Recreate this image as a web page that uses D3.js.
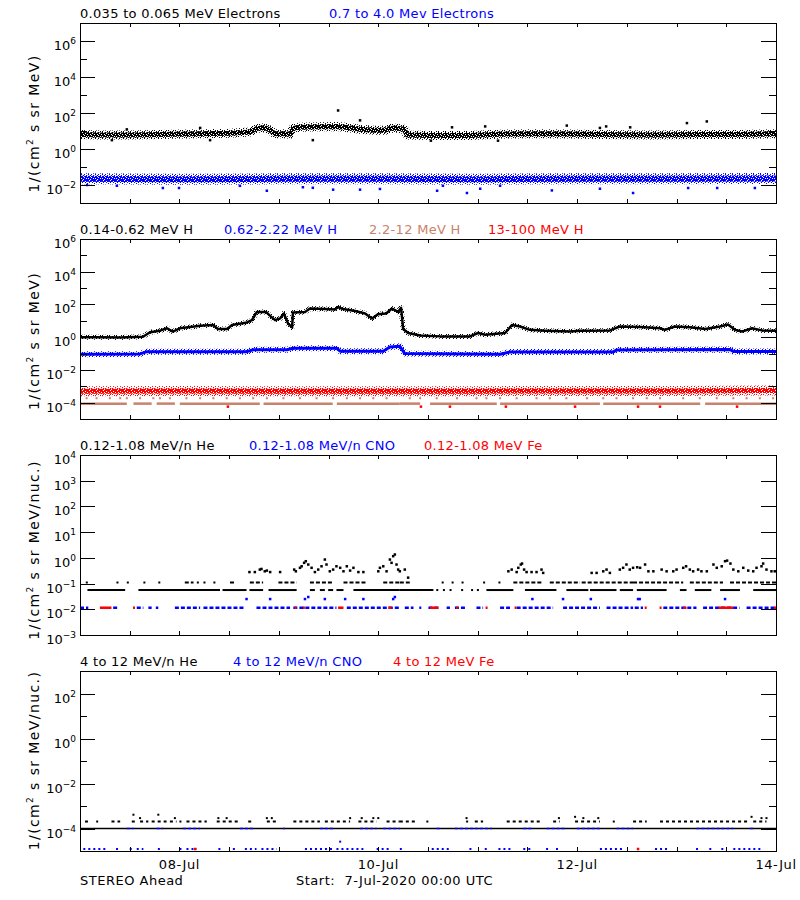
<!DOCTYPE html>
<html><head><meta charset="utf-8">
<script src="https://cdn.jsdelivr.net/npm/d3@7"></script>
<style>
body{margin:0;background:#fff}
text{font-family:"DejaVu Sans",sans-serif}
</style>
</head><body>
<svg id="c" width="800" height="900"></svg>
<script>
// ---------------- DATA (hours since 7-Jul-2020 00:00 UTC, flux) ----------------
const dayTickHours = [24, 72, 120, 168];
const dayTickLabels = ["08-Jul", "10-Jul", "12-Jul", "14-Jul"];
const footerLeft = "STEREO Ahead";
const footerStart = "Start:  7-Jul-2020 00:00 UTC";

// Panel 1: electrons
const elecTitles = ["0.035 to 0.065 MeV Electrons", "0.7 to 4.0 Mev Electrons"];
const eLow = [[0,6.3],[4.8,6.0],[12,6.0],[19.3,6.3],[29,7.1],[36.2,7.6],[41,8.9],[42.7,14],[44.7,15],[45.9,11],[47,7.1],[49.5,7.1],[50.7,6.6],[51.4,14],[53,16],[58,17],[62,18],[64,16],[67.6,12.6],[71.2,11],[73.6,11],[74.8,14],[76.8,14],[78.2,12.6],[79,6.0],[84.5,5.6],[94,5.6],[101,6.6],[111,7.1],[118,6.9],[125.5,6.3],[137.6,6.0],[149.7,6.3],[159,6.3],[168,7.1]];
const eLowOutliers = [[62.3,138],[67.6,39],[11.3,12.3],[29,14.8],[89.8,16],[97.8,18],[117.5,20],[127,18],[132.8,16],[146.5,27.5],[151.3,34],[125.5,14.8],[7.7,3.1],[31.4,3.1],[56.2,3.1],[100.9,2.9],[84.7,2.9]];
const eHigh = [[0,0.022],[24,0.021],[48,0.022],[72,0.022],[96,0.021],[120,0.022],[144,0.022],[168,0.023]];
const eHighOutliers = [[45.1,0.0048],[23.9,0.0068],[20,0.0068],[8.9,0.0091],[61.1,0.0055],[67.6,0.0055],[72.4,0.006],[53.8,0.0075],[56.2,0.007],[38.6,0.009],[1.7,0.01],[86.2,0.0048],[93.4,0.0036],[96.6,0.0062],[113.9,0.005],[133.5,0.0036],[153.8,0.0068],[162.9,0.0068],[146.8,0.0068],[125.5,0.0062],[101.4,0.0091],[87.6,0.0091]];

// Panel 2: protons
const protTitles = ["0.14-0.62 MeV H", "0.62-2.22 MeV H", "2.2-12 MeV H", "13-100 MeV H"];
const hLow = [[0,1.0],[4.8,1.0],[9.7,0.95],[15.2,1.07],[16.9,2.0],[19.3,2.5],[21,3.5],[22.4,2.2],[24.1,3.5],[26.6,4.2],[29,5.0],[32.1,5.6],[33.3,3.2],[35.5,3.2],[36.7,5.6],[40.3,7.9],[41.5,11],[42.7,35],[44.9,35],[45.9,20],[47.1,11],[48.3,14],[49.2,28],[50.2,7],[51.2,4],[51.4,32],[54.3,35],[55.5,56],[59.1,52],[61.6,50],[62.3,70],[63.5,52],[66.4,40],[68.8,28],[70.5,14],[71.9,25],[73.9,28],[75.3,56],[76.8,35],[77.5,63],[78,3.2],[79.2,1.8],[82.1,1.26],[86.9,1.12],[94.1,1.12],[96.1,1.8],[97.8,1.4],[102.6,1.8],[104.3,5.6],[106.2,4.5],[108.6,2.8],[112.2,2.5],[118.3,2.2],[120.7,2.5],[127.9,2.6],[130.3,4.5],[135.2,4.2],[140,3.5],[141.2,2.8],[143.6,4.5],[147.2,4.0],[150.9,3.2],[154.5,4.5],[156.4,6.0],[158.1,2.8],[159.8,2.2],[162.2,3.5],[164.6,2.6],[168,2.5]];
const hMid = [[0,0.091],[14.5,0.095],[16.2,0.13],[40.3,0.13],[41.8,0.17],[50,0.17],[51.4,0.21],[62,0.21],[62.8,0.14],[73.2,0.14],[74.8,0.25],[77.2,0.28],[78.4,0.1],[101.4,0.09],[103.8,0.126],[128.7,0.126],[129.6,0.166],[156.9,0.178],[157.7,0.135],[168,0.135]];
const hHigh = [[0,5e-4],[24,5.2e-4],[48,5e-4],[72,5e-4],[96,5e-4],[120,5.2e-4],[144,5.2e-4],[168,5.5e-4]];
const hHighOutliers = [[35.7,5.7e-5],[82.3,5.7e-5],[89.3,5.7e-5],[102.8,5.7e-5],[119.5,5.7e-5],[134.7,5.7e-5],[140,5.7e-5],[158.6,5.7e-5]];
const hSiennaLevel = 8.7e-5;
const hSiennaSegs = [[0,11.3],[12.9,17.3],[18.5,22.9],[24.1,43.4],[44.3,61],[62,77.2],[77.2,82.1],[84.5,100.6],[101.4,125.5],[126.3,149.7],[150.9,168]];
const hSiennaUpperLevel = 1.86e-4;
const hSiennaUpperHours = [0,1.6,4,7.2,9.7,11.3,14.5,17.7,19.3,21.7,25.7,29,32.2,35.4,38.6,41.8,45.1,49.1,53.1,57.1,61.1,64.4,67.6,70.8,74,79.6,82.1,86.1,91,95.7,98.1,101.4,105.4,110.2,113.4,117.4,122.4,126.3,129.5,133.5,136.8,140,145.6,149.6,153.7,157.7,160.9,164.1,167.3];

// Panel 3: low energy heavy ions
const ionTitles = ["0.12-1.08 MeV/n He", "0.12-1.08 MeV/n CNO", "0.12-1.08 MeV Fe"];
const heFloorLevel = 0.056;
const heFloorSegs = [[1.8,10.9],[14.1,33.8],[34.4,40.2],[40.9,44.2],[45.5,52.3],[55.5,56.7],[57.9,59.1],[59.9,61.1],[61.9,63.6],[66,77.2],[77.2,85.3],[86,86.4],[87.6,88],[89.2,89.6],[92,92.4],[94.4,94.8],[95.8,96.2],[98.1,104.6],[107.4,115],[117.4,122.7],[123.1,129.5],[130.3,133.5],[134.4,141.6],[144.8,146.4],[148.4,152.4],[154.5,159.3],[162.5,168]];
const heMidLevel = 0.11;
const heMidSegs = [[1.4,1.7],[8.8,9.1],[11.3,11.6],[15.3,15.6],[18.9,19.2],[25.3,27.4],[28.2,28.5],[29.8,30.1],[32.2,32.5],[36.2,37.4],[41,44.2],[47.9,52.3],[55.5,61.1],[63.6,69.2],[73.2,77.2],[77.2,79.6],[87.3,87.6],[89.7,90],[92.1,92.4],[97.3,97.6],[101,101.3],[104.6,111.8],[113.4,120.7],[121.1,133.5],[133.5,145.6],[147.2,155.2],[156.9,168]];
const heScatter = [[40.9,0.28],[42.2,0.28],[43.4,0.35],[43.8,0.37],[44.6,0.30],[45.1,0.32],[45.9,0.28],[48.3,0.28],[51.7,0.35],[52.1,0.30],[53.1,0.41],[53.5,0.47],[54.1,0.64],[54.5,0.74],[55.1,0.55],[55.9,0.41],[56.7,0.28],[57.5,0.35],[58.3,0.47],[59.1,0.86],[59.5,0.55],[60.3,0.30],[61.1,0.35],[61.9,0.47],[62.8,0.41],[63.6,0.30],[64.4,0.47],[65.2,0.32],[66,0.41],[67.2,0.28],[68.4,0.28],[72,0.30],[72.4,0.41],[73.2,0.47],[74,0.30],[74.8,0.86],[75.2,0.64],[75.6,1.16],[76,1.35],[76.4,0.55],[76.8,0.35],[77.2,0.30],[78.4,0.35],[79.2,0.17],[103.4,0.30],[104.2,0.35],[105.4,0.28],[105.8,0.41],[106.4,0.55],[106.7,0.60],[107.2,0.35],[107.8,0.28],[109,0.28],[110.2,0.28],[111.4,0.35],[111.8,0.26],[123.5,0.26],[124.7,0.26],[126.3,0.30],[127.1,0.35],[127.9,0.26],[130.3,0.35],[131.1,0.41],[131.9,0.55],[132.7,0.35],[133.5,0.41],[134.5,0.43],[135.2,0.41],[136.4,0.55],[137.2,0.30],[138.4,0.30],[140.4,0.35],[141.6,0.30],[143.2,0.30],[144,0.35],[145.6,0.41],[146.3,0.47],[147.2,0.35],[148,0.30],[149.2,0.35],[150,0.30],[151.3,0.30],[152.9,0.55],[153.7,0.41],[154.9,0.47],[155.7,0.74],[156.2,0.78],[157,0.60],[157.7,0.35],[158.9,0.30],[160.1,0.41],[161.3,0.32],[162.5,0.30],[163.3,0.41],[164.5,0.47],[164.9,0.60],[165.7,0.35],[166.9,0.30],[167.7,0.30]];
const cnoLevel = 0.0115;
const cnoSegs = [[0,2],[8,9],[13.7,15.3],[16.5,17.3],[18.3,18.9],[22.9,29],[29.8,39.8],[42.6,50.7],[51.5,61.9],[64.4,77.2],[78.4,80.5],[81.9,82.2],[84.1,86.5],[88.5,89.3],[90.5,93.3],[95.7,97.3],[101.4,103.8],[105.4,114.2],[116.6,125.5],[127.1,133.5],[133.9,135.9],[140.8,148.8],[150.4,159.2],[160.9,168]];
const cnoUpper = [[40.2,0.025],[45.9,0.025],[54.3,0.025],[59.1,0.025],[64,0.025],[68.4,0.025],[75.6,0.025],[109.2,0.025],[116.6,0.025],[123.3,0.025],[134.7,0.025],[135.1,0.025],[155.7,0.025],[55.1,0.03],[76,0.03]];
const feSegs = [[4.8,7.6],[12.8,13.1],[51.8,52.1],[53.8,54.1],[62.3,63.6],[74.4,75.2],[84.5,86.5],[90.8,91.1],[97.9,98.2],[104.9,105.2],[136.3,136.7],[139.9,140.2],[145.6,146.4],[154.1,157.7],[167.5,168]];

// Panel 4: high energy heavy ions
const ion4Titles = ["4 to 12 MeV/n He", "4 to 12 MeV/n CNO", "4 to 12 MeV Fe"];
const he4FloorLevel = 1e-4;
const he4FloorSegs = [[0,168]];
const he4Level2 = 2.04e-4;
const he4Level2Segs = [[1.2,2.4],[3.9,4.2],[7.6,9.7],[12.5,13.7],[14.5,16.5],[17.3,20.9],[21.7,23.3],[24,24.3],[25.7,30.6],[33,38.6],[40.6,41.8],[45.1,47.5],[51.5,57.9],[59.1,65.2],[67.2,71.6],[74,77.2],[77.2,81.3],[83.6,83.9],[93.2,93.5],[95.3,97.3],[103,111],[114.2,115.8],[119.5,125.5],[128.6,128.9],[133.5,136.8],[140,154.5],[154.5,161.7],[162.5,165.7]];
const he4Upper = [[12.9,4.1e-4],[14.5,2.9e-4],[18.9,4.1e-4],[22.9,2.9e-4],[33.4,2.9e-4],[35.4,2.9e-4],[45.1,2.9e-4],[46.3,2.9e-4],[65.2,2.9e-4],[68,2.9e-4],[70.8,2.9e-4],[72,2.9e-4],[93.3,2.9e-4],[115.6,2.9e-4],[119.5,3.3e-4],[121.5,2.9e-4],[125.1,2.9e-4],[162.1,3.3e-4],[164.5,2.9e-4],[165.7,2.9e-4]];
const cno4FloorSegs = [[11.3,12.9],[18.5,20.1],[24.9,29],[38.6,41.8],[49,49.3],[57.9,61.1],[67.6,71.6],[73.2,77.2],[86.1,86.9],[90.5,99.4],[107,109.4],[112.6,117.4],[119.9,125.5],[129.5,133.5],[148.8,157.7],[161.7,162.5]];
const cno4LowLevel = 1.23e-5;
const cno4LowSegs = [[0.8,6.4],[8.7,9],[12,12.3],[13.7,15.3],[18.8,19.1],[24,24.3],[25.7,28.2],[33.4,34.6],[36.9,37.2],[39.8,42.6],[43.8,47.5],[54.3,61.1],[61.9,68.4],[71.6,74.8],[77.2,78],[84.9,89.3],[94,94.3],[97.7,98],[101,104.6],[107,109.4],[112.5,112.8],[114.9,115.2],[125.5,131.1],[138.8,142],[148.7,149],[151.9,152.2],[154.8,155.1],[157.7,164.9]];
const cno4Odd = [[62.8,2.6e-5]];
const fe4Low = [[27.8,1.23e-5],[134.7,1.23e-5]];

// ---------------- LAYOUT / STYLE ----------------
const BLUE = "#0000ff", RED = "#ff0000", SIENNA = "#c9826b", BLACK = "#000";
const x0 = 80, x1 = 776;
const svg = d3.select("#c");
const xs = d3.scaleLinear().domain([0, 168]).range([x0, x1]);
const halfDayTicks = d3.range(0, 169, 12);

// speckle textures (pure styling, fixed bitmaps)
const denseTile = ["1111101", "1011111", "1110110", "0111111", "1101011", "1111110"];
const sparseTile = ["1000100", "0010001", "0100010", "0001000", "1000010", "0010100"];
const defs = svg.append("defs");
function makePattern(id, tile, color) {
  const p = defs.append("pattern").attr("id", id).attr("patternUnits", "userSpaceOnUse")
    .attr("width", tile[0].length).attr("height", tile.length);
  tile.forEach((row, r) => row.split("").forEach((c, k) => {
    if (c === "1") p.append("rect").attr("x", k).attr("y", r).attr("width", 1).attr("height", 1).attr("fill", color);
  }));
}
[["k", BLACK], ["b", BLUE], ["r", RED]].forEach(([n, c]) => {
  makePattern("dense-" + n, denseTile, c);
  makePattern("sparse-" + n, sparseTile, c);
});

function makeY(p) {
  return d3.scaleLog().domain([Math.pow(10, p.lo), Math.pow(10, p.hi)]).range([p.bottom, p.top]);
}

function drawLine(g, y, data, paint, w) {
  g.append("path").datum(data)
    .attr("d", d3.line().x(d => xs(d[0])).y(d => y(d[1])))
    .attr("fill", "none").attr("stroke", paint).attr("stroke-width", w)
    .attr("stroke-linejoin", "round");
}
function drawBand(g, y, data, n, inner, outer, solidCore) {
  drawLine(g, y, data, `url(#sparse-${n})`, outer);
  drawLine(g, y, data, solidCore ? solidCore : `url(#dense-${n})`, inner);
}
function drawDots(g, y, data, color, s) {
  s = s || 2.5;
  g.selectAll(null).data(data).enter().append("rect")
    .attr("x", d => xs(d[0]) - s / 2).attr("y", d => y(d[1]) - s / 2)
    .attr("width", s).attr("height", s).attr("fill", color);
}
function drawSegs(g, y, segs, level, color, h, dash) {
  g.selectAll(null).data(segs).enter().append("line")
    .attr("x1", d => xs(d[0])).attr("x2", d => Math.max(xs(d[1]), xs(d[0]) + 2))
    .attr("y1", y(level)).attr("y2", y(level))
    .attr("stroke", color).attr("stroke-width", h)
    .attr("stroke-dasharray", dash || null);
}

function frame(p, y) {
  const g = svg.append("g").attr("shape-rendering", "crispEdges");
  g.append("rect").attr("x", x0).attr("y", p.top).attr("width", x1 - x0).attr("height", p.bottom - p.top)
    .attr("fill", "none").attr("stroke", BLACK).attr("stroke-width", 1);
  const major = p.labeled.map(k => Math.pow(10, k));
  const minor = p.minor.map(k => Math.pow(10, k));
  const rm = s => s.call(a => a.select(".domain").remove()).selectAll("line").attr("stroke", BLACK);
  g.append("g").attr("transform", `translate(${x0},0)`).call(d3.axisRight(y).tickValues(major).tickSize(15).tickFormat("")).call(rm);
  g.append("g").attr("transform", `translate(${x1},0)`).call(d3.axisLeft(y).tickValues(major).tickSize(15).tickFormat("")).call(rm);
  if (minor.length) {
    g.append("g").attr("transform", `translate(${x0},0)`).call(d3.axisRight(y).tickValues(minor).tickSize(7).tickFormat("")).call(rm);
    g.append("g").attr("transform", `translate(${x1},0)`).call(d3.axisLeft(y).tickValues(minor).tickSize(7).tickFormat("")).call(rm);
  }
  g.append("g").attr("transform", `translate(0,${p.top})`).call(d3.axisBottom(xs).tickValues(halfDayTicks).tickSize(4).tickFormat("")).call(rm);
  g.append("g").attr("transform", `translate(0,${p.bottom})`).call(d3.axisTop(xs).tickValues(halfDayTicks).tickSize(4).tickFormat("")).call(rm);

  p.labeled.forEach(k => {
    const t = svg.append("text").attr("x", 76).attr("y", y(Math.pow(10, k)) + 9)
      .attr("text-anchor", "end").attr("font-size", 13);
    t.append("tspan").text("10");
    t.append("tspan").attr("dy", -6).attr("font-size", 9).text(k < 0 ? "\u2212" + (-k) : String(k));
  });
  const yt = svg.append("text").attr("transform", `translate(39,${p.ytCenter}) rotate(-90)`)
    .attr("text-anchor", "middle").attr("font-size", 14).attr("letter-spacing", 1.4);
  yt.append("tspan").text("1/(cm");
  yt.append("tspan").attr("dy", -6).attr("font-size", 9).text("2");
  yt.append("tspan").attr("dy", 6).text(p.unit);
  p.titles.forEach((s, i) => {
    svg.append("text").attr("x", p.titleX[i]).attr("y", p.top - 5)
      .attr("font-size", 13).attr("letter-spacing", 0.3).attr("fill", p.titleColors[i]).text(s);
  });
}

function clipGroup(p, id) {
  svg.append("clipPath").attr("id", id).append("rect")
    .attr("x", x0).attr("y", p.top).attr("width", x1 - x0).attr("height", p.bottom - p.top);
  return svg.append("g").attr("clip-path", `url(#${id})`);
}

// Panel 1
const P1 = {top: 23, bottom: 203, lo: -3, hi: 7, labeled: [-2, 0, 2, 4, 6], minor: [-1, 1, 3, 5],
  ytCenter: 123.5, unit: " s sr MeV)", titles: elecTitles, titleX: [80, 329], titleColors: [BLACK, BLUE]};
{
  const y = makeY(P1); const g = clipGroup(P1, "c1");
  drawBand(g, y, eLow, "k", 5, 9);
  drawDots(g, y, eLowOutliers, BLACK);
  drawBand(g, y, eHigh, "b", 6, 11);
  drawDots(g, y, eHighOutliers, BLUE);
  frame(P1, y);
}
// Panel 2
const P2 = {top: 239, bottom: 419, lo: -5, hi: 6, labeled: [-4, -2, 0, 2, 4, 6], minor: [-3, -1, 1, 3, 5],
  ytCenter: 341, unit: " s sr MeV)", titles: protTitles, titleX: [80, 224, 369, 488], titleColors: [BLACK, BLUE, SIENNA, RED]};
{
  const y = makeY(P2); const g = clipGroup(P2, "c2");
  drawBand(g, y, hLow, "k", 2.5, 5, BLACK);
  drawBand(g, y, hMid, "b", 3, 6, BLUE);
  drawSegs(g, y, hSiennaSegs, hSiennaLevel, SIENNA, 2.5);
  drawDots(g, y, hSiennaUpperHours.map(h => [h, hSiennaUpperLevel]), SIENNA, 2);
  drawBand(g, y, hHigh, "r", 5, 10);
  drawDots(g, y, hHighOutliers, RED);
  frame(P2, y);
}
// Panel 3
const P3 = {top: 455, bottom: 635, lo: -3, hi: 4, labeled: [-3, -2, -1, 0, 1, 2, 3, 4], minor: [],
  ytCenter: 550, unit: " s sr MeV/nuc.)", titles: ionTitles, titleX: [80, 249, 424], titleColors: [BLACK, BLUE, RED]};
{
  const y = makeY(P3); const g = clipGroup(P3, "c3");
  drawSegs(g, y, heFloorSegs, heFloorLevel, BLACK, 2);
  drawSegs(g, y, heMidSegs, heMidLevel, BLACK, 2, "4,2");
  drawDots(g, y, heScatter, BLACK);
  drawSegs(g, y, cnoSegs, cnoLevel, BLUE, 2.5, "4,2");
  drawDots(g, y, cnoUpper, BLUE);
  drawSegs(g, y, feSegs, cnoLevel, RED, 2.5);
  frame(P3, y);
}
// Panel 4
const P4 = {top: 671, bottom: 851, lo: -5, hi: 3, labeled: [-4, -2, 0, 2], minor: [-3, -1, 1],
  ytCenter: 760.5, unit: " s sr MeV/nuc.)", titles: ion4Titles, titleX: [80, 233, 393], titleColors: [BLACK, BLUE, RED]};
{
  const y = makeY(P4); const g = clipGroup(P4, "c4");
  drawSegs(g, y, he4FloorSegs, he4FloorLevel, BLACK, 1.5);
  drawSegs(g, y, he4Level2Segs, he4Level2, BLACK, 2, "3,3");
  drawDots(g, y, he4Upper, BLACK, 2);
  drawSegs(g, y, cno4FloorSegs, he4FloorLevel, BLUE, 1.5, "3,2");
  drawSegs(g, y, cno4LowSegs, cno4LowLevel, BLUE, 2, "2,3");
  drawDots(g, y, cno4Odd, BLUE, 2);
  drawDots(g, y, fe4Low, RED, 2.5);
  frame(P4, y);
}

svg.selectAll(null).data(dayTickHours).enter().append("text")
  .attr("x", d => xs(d)).attr("y", 869).attr("text-anchor", "middle")
  .attr("font-size", 13).attr("letter-spacing", 0.6)
  .text((d, i) => dayTickLabels[i]);
svg.append("text").attr("x", 80).attr("y", 885).attr("font-size", 13).attr("letter-spacing", 0.5).text(footerLeft);
svg.append("text").attr("x", 296).attr("y", 885).attr("font-size", 13).attr("letter-spacing", 0.5)
  .style("white-space", "pre").text(footerStart);
</script>
</body></html>
